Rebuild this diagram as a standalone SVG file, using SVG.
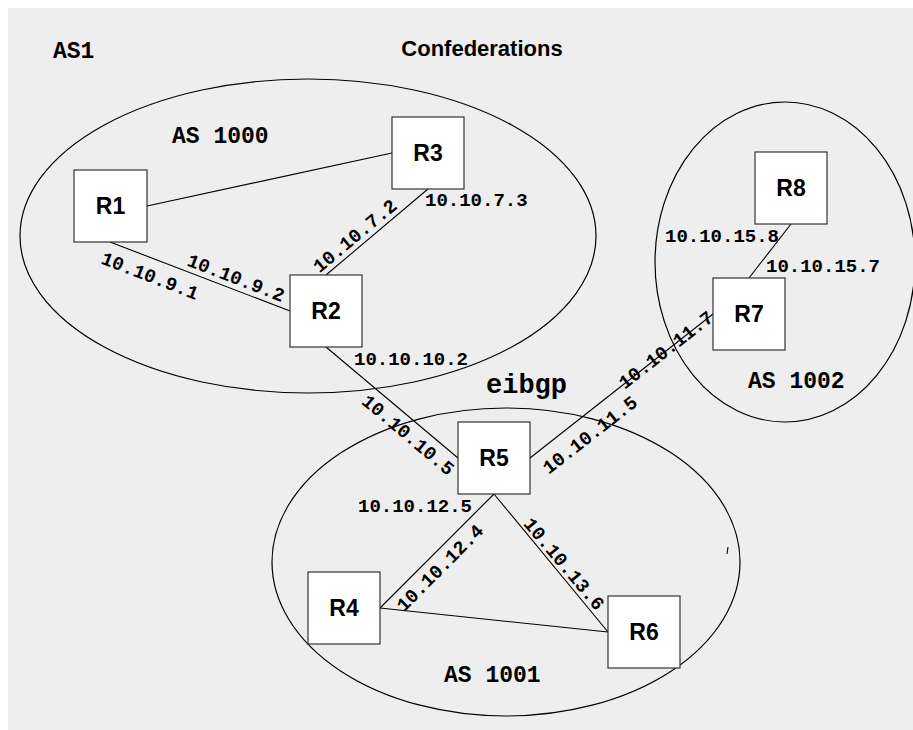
<svg xmlns="http://www.w3.org/2000/svg" width="913" height="730" viewBox="0 0 913 730">
  <style>
    .as { fill: none; stroke: #000; stroke-width: 1.2; }
    .box { fill: #fff; stroke: #333; stroke-width: 1.2; }
    .link { stroke: #000; stroke-width: 1.1; fill: none; }
    .rname { font-family: "Liberation Sans", Arial, sans-serif; font-weight: bold; font-size: 23px; text-anchor: middle; fill: #000; }
    .ip { font-family: "Liberation Mono", "Courier New", monospace; font-weight: bold; font-size: 19px; fill: #000; }
    .ipm { text-anchor: middle; }
    .asname { font-family: "Liberation Mono", "Courier New", monospace; font-weight: bold; font-size: 23px; fill: #000; }
    .title { font-family: "Liberation Sans", Arial, sans-serif; font-weight: bold; font-size: 22px; text-anchor: middle; fill: #000; }
  </style>

  <!-- canvas -->
  <rect x="8" y="8" width="905" height="722" fill="#eeeeee"/>

  <text class="title" x="482" y="56">Confederations</text>
  <text class="asname" x="53" y="58">AS1</text>

  <!-- sub-AS areas -->
  <g id="areas">
    <ellipse class="as" cx="308" cy="236" rx="288" ry="157"/>
    <ellipse class="as" cx="506" cy="562" rx="234" ry="154"/>
    <ellipse class="as" cx="785" cy="262" rx="130" ry="160"/>
    <line class="link" x1="728" y1="547" x2="727" y2="554"/>
  </g>

  <text class="asname" x="172" y="143">AS 1000</text>
  <text class="asname" x="444" y="682">AS 1001</text>
  <text class="asname" x="748" y="388">AS 1002</text>
  <text class="asname" x="486" y="393" style="font-size:27px">eibgp</text>

  <!-- links -->
  <g id="connectors">
    <line class="link" x1="147" y1="206" x2="392" y2="153"/>
    <line class="link" x1="110" y1="242" x2="290" y2="311"/>
    <line class="link" x1="428" y1="189" x2="326" y2="275"/>
    <line class="link" x1="326" y1="347" x2="458" y2="458"/>
    <line class="link" x1="530" y1="458" x2="713" y2="314"/>
    <line class="link" x1="749" y1="278" x2="791" y2="224"/>
    <line class="link" x1="494" y1="494" x2="380" y2="608"/>
    <line class="link" x1="494" y1="494" x2="608" y2="632"/>
    <line class="link" x1="380" y1="608" x2="608" y2="632"/>
  </g>

  <!-- interface addresses -->
  <g id="addresses">
    <text class="ip ipm" transform="translate(150,276) rotate(21)" y="6">10.10.9.1</text>
    <text class="ip ipm" transform="translate(236,278) rotate(21)" y="6">10.10.9.2</text>
    <text class="ip ipm" transform="translate(355,236) rotate(-40)" y="6">10.10.7.2</text>
    <text class="ip" x="425" y="206">10.10.7.3</text>
    <text class="ip" x="354" y="365">10.10.10.2</text>
    <text class="ip ipm" transform="translate(408,435) rotate(40)" y="6">10.10.10.5</text>
    <text class="ip ipm" transform="translate(666,350) rotate(-38)" y="6">10.10.11.7</text>
    <text class="ip ipm" transform="translate(590,435) rotate(-38)" y="6">10.10.11.5</text>
    <text class="ip" x="665" y="242">10.10.15.8</text>
    <text class="ip" x="766" y="272">10.10.15.7</text>
    <text class="ip" x="358" y="512">10.10.12.5</text>
    <text class="ip ipm" transform="translate(440,568) rotate(-45)" y="6">10.10.12.4</text>
    <text class="ip ipm" transform="translate(564,564) rotate(50)" y="6">10.10.13.6</text>
  </g>

  <!-- routers -->
  <g id="R1"><rect class="box" x="74" y="170" width="73" height="72"/><text class="rname" x="110.5" y="214">R1</text></g>
  <g id="R2"><rect class="box" x="290" y="275" width="72" height="72"/><text class="rname" x="326" y="319">R2</text></g>
  <g id="R3"><rect class="box" x="392" y="117" width="72" height="72"/><text class="rname" x="428" y="161">R3</text></g>
  <g id="R4"><rect class="box" x="308" y="572" width="72" height="72"/><text class="rname" x="344" y="616">R4</text></g>
  <g id="R5"><rect class="box" x="458" y="422" width="72" height="72"/><text class="rname" x="494" y="466">R5</text></g>
  <g id="R6"><rect class="box" x="608" y="596" width="72" height="72"/><text class="rname" x="644" y="640">R6</text></g>
  <g id="R7"><rect class="box" x="713" y="278" width="72" height="72"/><text class="rname" x="749" y="322">R7</text></g>
  <g id="R8"><rect class="box" x="755" y="152" width="72" height="72"/><text class="rname" x="791" y="196">R8</text></g>
</svg>
